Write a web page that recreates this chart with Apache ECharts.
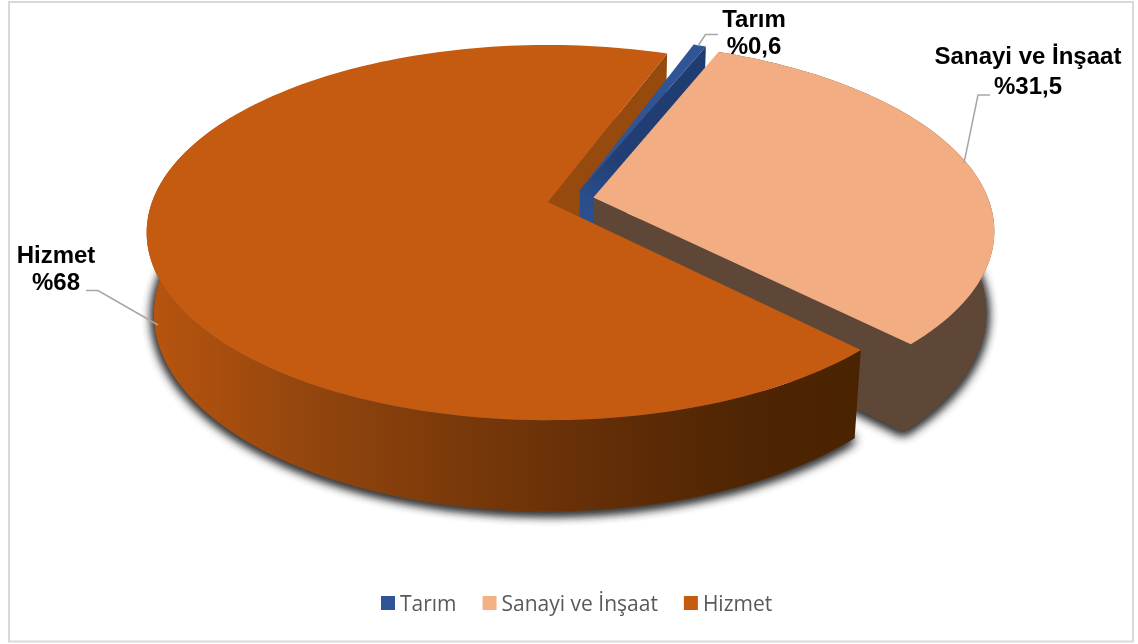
<!DOCTYPE html>
<html><head><meta charset="utf-8">
<style>html,body{margin:0;padding:0;background:#fff}#c{width:1138px;height:644px}</style>
<script src="https://cdn.jsdelivr.net/npm/echarts@6/dist/echarts.min.js"></script>
</head><body><div id="c"></div>
<script>
const categories = ['Tarım', 'Sanayi ve İnşaat', 'Hizmet'];
const values = [0.6, 31.5, 68];
const percentLabels = ['%0,6', '%31,5', '%68'];

const colors = ['#2F5597', '#F4B183', '#C55A11'];
const startAngle = 20.3;
const explode = [[0.081, 0.065], [0.115, 0.025], [0, 0]];
const view = {cx: 548, cy: 202, rx: 396, ry: 182.6, p: 0.163, q: 0.018, h: 82};
const labelPos = [[754, 34], [1028, 72.5], [56, 270]];
const labelLineHeights = [27, 30, 27];
const leaders = [
  [[698, 46], [705.5, 34.5], [718, 34.5]],
  [[964, 163], [978, 95], [990, 95]],
  [[158, 325], [98, 290.5], [86, 290.5]]
];
const total = values.reduce((a, b) => a + b, 0);
const RAD = Math.PI / 180;

function project(u, v, z) {
  const w = 1 + view.p * v + view.q * z;
  return [view.cx + view.rx * u / w, view.cy - (view.ry * v - view.h * z) / w];
}
function rim(i, deg, z) {
  return project(Math.sin(deg * RAD) + explode[i][0], Math.cos(deg * RAD) + explode[i][1], z);
}
function apex(i, z) { return project(explode[i][0], explode[i][1], z); }
function arc(i, a0, a1, z) {
  const n = Math.max(2, Math.ceil(Math.abs(a1 - a0) / 1.5));
  const out = [];
  for (let k = 0; k <= n; k++) out.push(rim(i, a0 + (a1 - a0) * k / n, z));
  return out;
}
function angles(i) {
  let a = startAngle;
  for (let k = 0; k < i; k++) a += values[k] / total * 360;
  return [a, a + values[i] / total * 360];
}
function poly(points, fill, z2, extra) {
  return {type: 'polygon', z2: z2, silent: true, shape: {points: points},
    style: Object.assign({fill: fill}, extra || {})};
}
function sector(i, z) { const [a, b] = angles(i); return [apex(i, z)].concat(arc(i, a, b, z)); }
function radialWall(i, deg) { return [apex(i, 0), rim(i, deg, 0), rim(i, deg, 1), apex(i, 1)]; }
function strip(i, a0, a1) { return arc(i, a0, a1, 0).concat(arc(i, a0, a1, 1).reverse()); }

function labelEls(i) {
  const txt = {type: 'text', z2: 40, silent: true,
    style: {text: categories[i] + '\n' + percentLabels[i], x: labelPos[i][0], y: labelPos[i][1],
      align: 'center', verticalAlign: 'middle', fill: '#000', lineHeight: labelLineHeights[i],
      font: 'bold 24px "Liberation Sans", Arial, sans-serif'}};
  const line = {type: 'polyline', z2: 39, silent: true, shape: {points: leaders[i]},
    style: {stroke: '#A6A6A6', lineWidth: 1.5, fill: null}};
  return [line, txt];
}

const sideGradient = {type: 'linear', x: 150, y: 0, x2: 855, y2: 0, global: true, colorStops: [
  {offset: 0, color: '#B8540F'}, {offset: 0.21, color: '#95470E'}, {offset: 0.42, color: '#7C3A0A'},
  {offset: 0.64, color: '#632E07'}, {offset: 0.85, color: '#4F2503'}, {offset: 1, color: '#4A2300'}]};
const tarimWall = {type: 'linear', x: 700, y: 60, x2: 585, y2: 205, global: true, colorStops: [
  {offset: 0, color: '#1F3C70'}, {offset: 0.7, color: '#213F76'}, {offset: 1, color: '#2B4F8E'}]};

function shadowPolys(i) {
  const s = {shadowBlur: 11, shadowColor: 'rgba(50,50,50,0.9)', shadowOffsetY: 2};
  return [1, 2, 3].map(k => poly(sector(i, 1), '#555', k, s));
}

function renderSlice(i) {
  const [a, b] = angles(i);
  let ch = [];
  if (i === 0) {
    ch.push(poly(radialWall(i, b), tarimWall, 12));
    ch.push(poly(sector(i, 0), colors[i], 13));
  } else if (i === 1) {
    ch = ch.concat(shadowPolys(i));
    ch.push(poly(strip(i, a, b), '#5F4737', 20));
    ch.push(poly(radialWall(i, b), '#5F4737', 21));
    ch.push(poly(sector(i, 0), '#F2AE82', 22));
  } else {
    ch = ch.concat(shadowPolys(i));
    ch.push(poly(radialWall(i, b), '#964A0D', 10));
    ch.push(poly(strip(i, a, 300), sideGradient, 30));
    ch.push(poly(sector(i, 0), colors[i], 31));
  }
  return {type: 'group', children: ch.concat(labelEls(i))};
}

const chart = echarts.init(document.getElementById('c'), null, {renderer: 'canvas'});
chart.setOption({
  animation: false,
  backgroundColor: '#fff',
  graphic: [{type: 'rect', z: 0, silent: true, shape: {x: 9, y: 2, width: 1124, height: 639.5},
    style: {fill: 'none', stroke: '#D9D9D9', lineWidth: 2}}],
  legend: {
    data: categories, selectedMode: false, left: 376, top: 585, orient: 'horizontal',
    icon: 'rect', itemWidth: 14, itemHeight: 14, itemGap: 26,
    formatter: '{t|{name}}',
    textStyle: {
      rich: {t: {color: '#595959', fontSize: 21, fontFamily: '"Open Sans", "Noto Sans", sans-serif',
        lineHeight: 26, padding: [5, 0, 0, 0]}}
    }
  },
  series: categories.map((name, i) => ({
    type: 'custom', name: name, coordinateSystem: 'none', silent: true,
    itemStyle: {color: colors[i]},
    data: [[values[i]]],
    renderItem: () => renderSlice(i)
  }))
});
</script></body></html>
